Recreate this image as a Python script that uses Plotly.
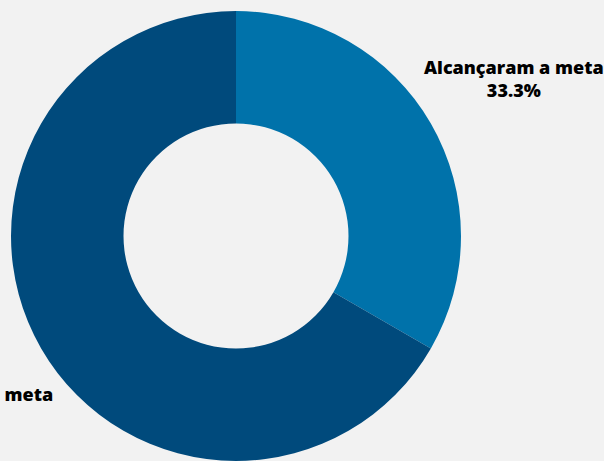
import plotly.graph_objects as go

labels = ["Alcançaram a meta", "Não alcançaram a meta"]
values = [1, 2]
colors = ["#0072aa", "#004a7c"]

W, H = 604, 461
TOP = 11
PLOT_H = H - TOP

fig = go.Figure(
    go.Pie(
        labels=labels,
        values=values,
        hole=0.5,
        sort=False,
        direction="clockwise",
        rotation=0,
        marker=dict(colors=colors, line=dict(width=0)),
        textinfo="none",
        hoverinfo="label+percent",
        showlegend=False,
        automargin=False,
        domain=dict(x=[11 / W, 461 / W], y=[0, 1]),
    )
)

# Outside labels: slice name plus its share of the total
total = sum(values)
label_spots = [
    dict(px=513.5, py=79, xanchor="center"),
    dict(px=55, py=405, xanchor="right"),
]
for name, val, spot in zip(labels, values, label_spots):
    fig.add_annotation(
        text=f"{name}<br>{val / total * 100:.1f}%",
        xref="paper",
        yref="paper",
        x=spot["px"] / W,
        y=1 - (spot["py"] - TOP) / PLOT_H,
        xanchor=spot["xanchor"],
        yanchor="middle",
        align="center",
        showarrow=False,
        font=dict(family="Open Sans", size=18, color="#000000", weight=800),
    )

fig.update_layout(
    width=W,
    height=H,
    margin=dict(l=0, r=0, t=TOP, b=0),
    paper_bgcolor="#f2f2f2",
    plot_bgcolor="#f2f2f2",
)

fig.write_html("out.html")
